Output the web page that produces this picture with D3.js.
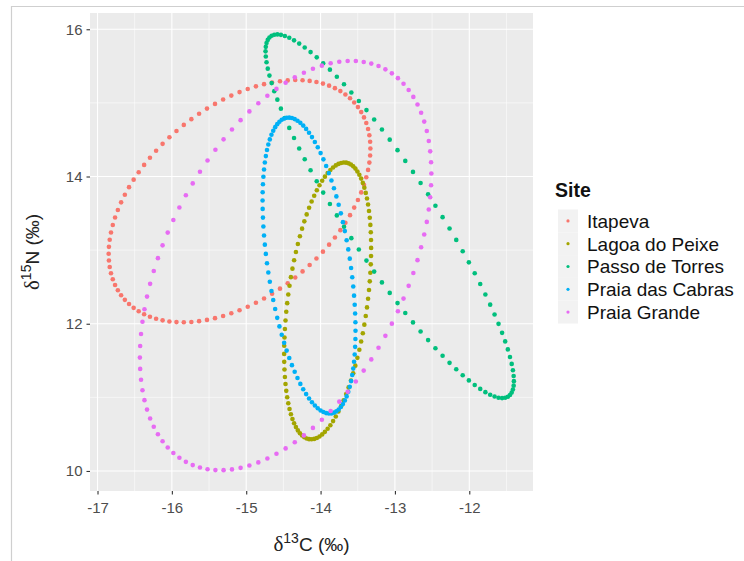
<!DOCTYPE html>
<head>
<meta charset="utf-8">
<script src="https://d3js.org/d3.v7.min.js"></script>
<style>
  body { margin: 0; background: #fff; }
  text { font-family: "Liberation Sans", Arial, sans-serif; }
</style>
</head>
<body>
<svg width="744" height="561"></svg>
<script>

// ellipse summaries (delta13C, delta15N)
let sites   = ["Itapeva", "Lagoa do Peixe", "Passo de Torres", "Praia das Cabras", "Praia Grande"];
let colours = ["#F8766D", "#A3A500", "#00BF7D", "#00B0F6", "#E76BF3"];
let centreC = [-15.09, -13.905, -13.07, -14.155, -14.47];
let centreN = [13.665, 12.31, 13.46, 12.79, 12.79];
let halfC   = [1.76, 0.585, 1.67, 0.625, 1.96];   // half width along x
let halfN   = [1.645, 1.88, 2.47, 2.01, 2.78];    // half height along y
let shiftN  = [0.715, 0.72, -2.24, -0.885, 1.25]; // y offset at the rightmost point
let nPoints = 100;

let xTicks = [-17, -16, -15, -14, -13, -12];
let yTicks = [10, 12, 14, 16];

let svg = d3.select("svg");

// frame of the screenshot
svg.append("path")
    .attr("d", "M11.5,561V6.5H744")
    .attr("fill", "none")
    .attr("stroke", "#cfcfcf")
    .attr("stroke-width", 1.2);

let pLeft = 90, pRight = 533, pTop = 13, pBottom = 491;

let x = d3.scaleLinear().domain([-17.101, -11.143]).range([pLeft, pRight]);
let y = d3.scaleLinear().domain([16.221, 9.728]).range([pTop, pBottom]);

let panel = svg.append("g");

panel.append("rect")
    .attr("x", pLeft).attr("y", pTop)
    .attr("width", pRight - pLeft).attr("height", pBottom - pTop)
    .attr("fill", "#EBEBEB");

// minor grid
let xMinor = [-16.5, -15.5, -14.5, -13.5, -12.5, -11.5];
let yMinor = [11, 13, 15];
panel.selectAll(".xminor").data(xMinor).enter().append("line")
    .attr("x1", x).attr("x2", x).attr("y1", pTop).attr("y2", pBottom)
    .attr("stroke", "#fff").attr("stroke-width", 0.55);
panel.selectAll(".yminor").data(yMinor).enter().append("line")
    .attr("y1", y).attr("y2", y).attr("x1", pLeft).attr("x2", pRight)
    .attr("stroke", "#fff").attr("stroke-width", 0.55);

// major grid
panel.selectAll(".xmajor").data(xTicks).enter().append("line")
    .attr("x1", x).attr("x2", x).attr("y1", pTop).attr("y2", pBottom)
    .attr("stroke", "#fff").attr("stroke-width", 1.1);
panel.selectAll(".ymajor").data(yTicks).enter().append("line")
    .attr("y1", y).attr("y2", y).attr("x1", pLeft).attr("x2", pRight)
    .attr("stroke", "#fff").attr("stroke-width", 1.1);

// ellipse outlines as points: centre + chol(shape) applied to the unit circle
let points = [];
sites.forEach(function(s, i) {
  let u22 = Math.sqrt(halfN[i] * halfN[i] - shiftN[i] * shiftN[i]);
  d3.range(nPoints).forEach(function(k) {
    let t = 2 * Math.PI * k / nPoints;
    points.push({
      site: i,
      c: centreC[i] + halfC[i] * Math.cos(t),
      n: centreN[i] + shiftN[i] * Math.cos(t) + u22 * Math.sin(t)
    });
  });
});

panel.append("g")
  .selectAll("circle")
  .data(points)
  .enter().append("circle")
    .attr("cx", function(d) { return x(d.c); })
    .attr("cy", function(d) { return y(d.n); })
    .attr("r", 2.3)
    .attr("fill", function(d) { return colours[d.site]; });

// axes
let xAxis = svg.append("g")
    .attr("transform", "translate(0," + pBottom + ")")
    .call(d3.axisBottom(x).tickValues(xTicks).tickSize(3.5).tickPadding(5).tickFormat(d3.format("d")));
let yAxis = svg.append("g")
    .attr("transform", "translate(" + pLeft + ",0)")
    .call(d3.axisLeft(y).tickValues(yTicks).tickSize(3.5).tickPadding(4).tickFormat(d3.format("d")));

[xAxis, yAxis].forEach(function(a) {
  a.select(".domain").remove();
  a.selectAll(".tick line").attr("stroke", "#333").attr("stroke-width", 1.1);
  a.selectAll(".tick text")
      .attr("fill", "#4D4D4D")
      .attr("font-size", 15)
      .attr("font-family", "'Liberation Sans', Arial, sans-serif")
      .text(function(d) { return d < 0 ? "-" + Math.abs(d) : d; });
});
xAxis.selectAll(".tick text").attr("dy", "0.9em");

// axis titles
let xTitle = svg.append("text")
    .attr("x", (pLeft + pRight) / 2)
    .attr("y", 551)
    .attr("text-anchor", "middle")
    .attr("font-size", 19)
    .attr("fill", "#222");
xTitle.append("tspan").attr("font-family", "'Liberation Serif', serif").attr("font-size", 21).text("δ");
xTitle.append("tspan").attr("font-size", 14).attr("dy", -8).text("13");
xTitle.append("tspan").attr("dy", 8).text("C (‰)");

let yTitle = svg.append("text")
    .attr("transform", "translate(39," + (pTop + pBottom) / 2 + ")rotate(-90)")
    .attr("text-anchor", "middle")
    .attr("font-size", 19)
    .attr("fill", "#222");
yTitle.append("tspan").attr("font-family", "'Liberation Serif', serif").attr("font-size", 21).text("δ");
yTitle.append("tspan").attr("font-size", 14).attr("dy", -8).text("15");
yTitle.append("tspan").attr("dy", 8).text("N (‰)");

// legend
let legend = svg.append("g").attr("transform", "translate(555,0)");

legend.append("text")
    .attr("x", 0)
    .attr("y", 197)
    .attr("font-size", 19.5)
    .attr("font-weight", "bold")
    .attr("fill", "#111")
    .text("Site");

let key = legend.selectAll(".key")
  .data(sites)
  .enter().append("g")
    .attr("transform", function(d, i) { return "translate(0," + (209.5 + i * 22.8) + ")"; });

key.append("rect")
    .attr("x", 3).attr("width", 20).attr("height", 22.8)
    .attr("fill", "#F2F2F2");

key.append("circle")
    .attr("cx", 13).attr("cy", 11.4).attr("r", 1.6)
    .attr("fill", function(d, i) { return colours[i]; });

key.append("text")
    .attr("x", 32)
    .attr("y", 11.4)
    .attr("dy", "0.36em")
    .attr("font-size", 19)
    .attr("fill", "#111")
    .text(function(d) { return d; });

</script>
</body>
